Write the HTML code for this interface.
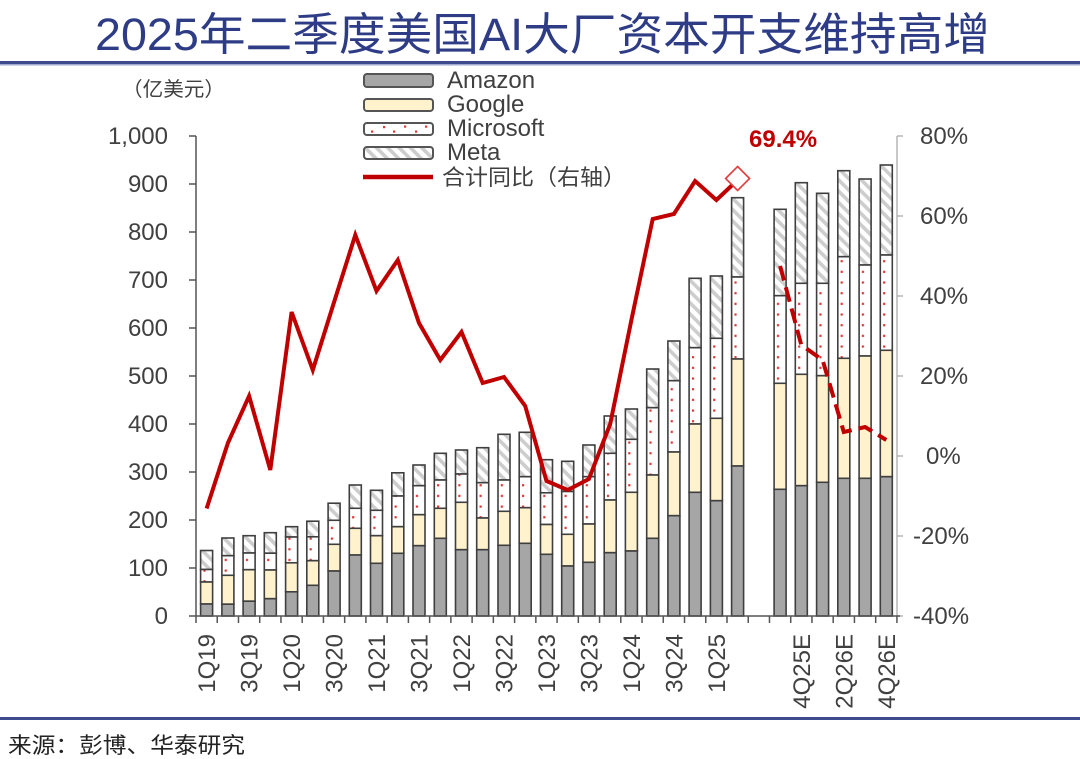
<!DOCTYPE html>
<html><head><meta charset="utf-8"><style>
html,body{margin:0;padding:0;background:#fff;}
svg{display:block;}
text{font-family:"Liberation Sans","Noto Sans CJK SC",sans-serif;}
.tk{font-size:24px;fill:#404040;}
.xl{font-size:24px;fill:#404040;}
.lg{font-size:24px;fill:#404040;}
.s rect{stroke:#3f3f3f;stroke-width:1.6;}
.am{fill:#a6a6a6;} .go{fill:#fff2cc;} .ms{fill:url(#dots);} .me{fill:url(#hatch);}
</style></head><body>
<svg width="1080" height="759" viewBox="0 0 1080 759" xmlns="http://www.w3.org/2000/svg">
<defs>
<pattern id="dots" patternUnits="userSpaceOnUse" x="196" y="0" width="21.24" height="10.67">
<rect width="21.24" height="10.67" fill="#fff"/>
<rect x="7.4" y="4" width="2.2" height="2.2" fill="#e03535"/>
</pattern>
<pattern id="hatch" patternUnits="userSpaceOnUse" width="8" height="8" patternTransform="rotate(-45)">
<rect width="8" height="8" fill="#fff"/>
<rect x="0" y="0" width="3.6" height="8" fill="#cdcdcd"/>
</pattern>
</defs>
<rect width="1080" height="759" fill="#fff"/>
<text x="95" y="50" font-size="45" fill="#2e3c86" textLength="895" lengthAdjust="spacingAndGlyphs">2025年二季度美国AI大厂资本开支维持高增</text>
<rect x="0" y="61" width="1080" height="3" fill="#3d4a8c"/>
<rect x="0" y="64" width="1080" height="1.5" fill="#a0a8cf"/>
<text x="122" y="96" font-size="20" fill="#404040" textLength="103" lengthAdjust="spacingAndGlyphs">（亿美元）</text>
<rect x="364" y="74" width="69" height="13" rx="3" fill="#a6a6a6" stroke="#555" stroke-width="2"/>
<rect x="364" y="99" width="69" height="12" rx="3" fill="#fff2cc" stroke="#555" stroke-width="2"/>
<rect x="364" y="123" width="69" height="12" rx="3" fill="#fff" stroke="#555" stroke-width="2"/>
<g fill="#e03535"><rect x="371" y="130.5" width="2.2" height="2.2"/><rect x="383" y="126" width="2.2" height="2.2"/><rect x="393" y="130.5" width="2.2" height="2.2"/><rect x="404" y="125.5" width="2.2" height="2.2"/><rect x="415" y="130.5" width="2.2" height="2.2"/><rect x="425" y="125.5" width="2.2" height="2.2"/></g>
<rect x="364" y="147" width="69" height="12" rx="3" fill="url(#hatch)" stroke="#555" stroke-width="2"/>
<line x1="363" y1="177" x2="433" y2="177" stroke="#c00000" stroke-width="4.5"/>
<text class="lg" x="447" y="88">Amazon</text>
<text class="lg" x="447" y="112">Google</text>
<text class="lg" x="447" y="136">Microsoft</text>
<text class="lg" x="447" y="160">Meta</text>
<text x="442" y="185" font-size="22" fill="#404040" textLength="184" lengthAdjust="spacingAndGlyphs">合计同比（右轴）</text>
<g stroke="#555" stroke-width="1.5">
<line x1="196" y1="136" x2="196" y2="616"/>
<line x1="189" y1="136" x2="196" y2="136"/><line x1="189" y1="184" x2="196" y2="184"/><line x1="189" y1="232" x2="196" y2="232"/><line x1="189" y1="280" x2="196" y2="280"/><line x1="189" y1="328" x2="196" y2="328"/><line x1="189" y1="376" x2="196" y2="376"/><line x1="189" y1="424" x2="196" y2="424"/><line x1="189" y1="472" x2="196" y2="472"/><line x1="189" y1="520" x2="196" y2="520"/><line x1="189" y1="568" x2="196" y2="568"/><line x1="189" y1="616" x2="196" y2="616"/>
</g>
<g class="tk" text-anchor="end">
<text x="168" y="144">1,000</text><text x="168" y="192">900</text><text x="168" y="240">800</text><text x="168" y="288">700</text><text x="168" y="336">600</text><text x="168" y="384">500</text><text x="168" y="432">400</text><text x="168" y="480">300</text><text x="168" y="528">200</text><text x="168" y="576">100</text><text x="168" y="624">0</text>
</g>
<g stroke="#b5b5b5" stroke-width="1.5">
<line x1="897" y1="136" x2="897" y2="616"/>
<line x1="897" y1="136" x2="903" y2="136"/><line x1="897" y1="216" x2="903" y2="216"/><line x1="897" y1="296" x2="903" y2="296"/><line x1="897" y1="376" x2="903" y2="376"/><line x1="897" y1="456" x2="903" y2="456"/><line x1="897" y1="536" x2="903" y2="536"/><line x1="897" y1="616" x2="903" y2="616"/>
</g>
<g class="tk">
<text x="920" y="144">80%</text><text x="920" y="224">60%</text><text x="920" y="304">40%</text><text x="920" y="384">20%</text><text x="926" y="464">0%</text><text x="913" y="544">-20%</text><text x="913" y="624">-40%</text>
</g>
<g class="s">
<rect class="me" x="200.6" y="550.5" width="12" height="19"/><rect class="ms" x="200.6" y="569.5" width="12" height="12.5"/><rect class="go" x="200.6" y="582" width="12" height="22"/><rect class="am" x="200.6" y="604" width="12" height="12"/>
<rect class="me" x="221.9" y="538" width="12" height="17.7"/><rect class="ms" x="221.9" y="555.7" width="12" height="19.6"/><rect class="go" x="221.9" y="575.3" width="12" height="28.9"/><rect class="am" x="221.9" y="604.2" width="12" height="11.8"/>
<rect class="me" x="243.1" y="535.7" width="12" height="17.3"/><rect class="ms" x="243.1" y="553" width="12" height="16.7"/><rect class="go" x="243.1" y="569.7" width="12" height="31.5"/><rect class="am" x="243.1" y="601.2" width="12" height="14.8"/>
<rect class="me" x="264.3" y="532.7" width="12" height="20.5"/><rect class="ms" x="264.3" y="553.2" width="12" height="16.8"/><rect class="go" x="264.3" y="570" width="12" height="28.7"/><rect class="am" x="264.3" y="598.7" width="12" height="17.3"/>
<rect class="me" x="285.6" y="526.7" width="12" height="10.3"/><rect class="ms" x="285.6" y="537" width="12" height="25.8"/><rect class="go" x="285.6" y="562.8" width="12" height="29"/><rect class="am" x="285.6" y="591.8" width="12" height="24.2"/>
<rect class="me" x="306.8" y="521.2" width="12" height="15.6"/><rect class="ms" x="306.8" y="536.8" width="12" height="23.9"/><rect class="go" x="306.8" y="560.7" width="12" height="24.6"/><rect class="am" x="306.8" y="585.3" width="12" height="30.7"/>
<rect class="me" x="328.1" y="503.2" width="12" height="17.1"/><rect class="ms" x="328.1" y="520.3" width="12" height="24"/><rect class="go" x="328.1" y="544.3" width="12" height="26.7"/><rect class="am" x="328.1" y="571" width="12" height="45"/>
<rect class="me" x="349.3" y="485" width="12" height="23.3"/><rect class="ms" x="349.3" y="508.3" width="12" height="20"/><rect class="go" x="349.3" y="528.3" width="12" height="26.7"/><rect class="am" x="349.3" y="555" width="12" height="61"/>
<rect class="me" x="370.5" y="490.3" width="12" height="20"/><rect class="ms" x="370.5" y="510.3" width="12" height="25.4"/><rect class="go" x="370.5" y="535.7" width="12" height="27.6"/><rect class="am" x="370.5" y="563.3" width="12" height="52.7"/>
<rect class="me" x="391.8" y="472.8" width="12" height="23.2"/><rect class="ms" x="391.8" y="496" width="12" height="30.7"/><rect class="go" x="391.8" y="526.7" width="12" height="26.6"/><rect class="am" x="391.8" y="553.3" width="12" height="62.7"/>
<rect class="me" x="413" y="465" width="12" height="20.7"/><rect class="ms" x="413" y="485.7" width="12" height="29"/><rect class="go" x="413" y="514.7" width="12" height="31"/><rect class="am" x="413" y="545.7" width="12" height="70.3"/>
<rect class="me" x="434.3" y="453.3" width="12" height="26.7"/><rect class="ms" x="434.3" y="480" width="12" height="28.3"/><rect class="go" x="434.3" y="508.3" width="12" height="30"/><rect class="am" x="434.3" y="538.3" width="12" height="77.7"/>
<rect class="me" x="455.5" y="450" width="12" height="24"/><rect class="ms" x="455.5" y="474" width="12" height="28.3"/><rect class="go" x="455.5" y="502.3" width="12" height="47.4"/><rect class="am" x="455.5" y="549.7" width="12" height="66.3"/>
<rect class="me" x="476.7" y="447.7" width="12" height="35"/><rect class="ms" x="476.7" y="482.7" width="12" height="35.3"/><rect class="go" x="476.7" y="518" width="12" height="31.7"/><rect class="am" x="476.7" y="549.7" width="12" height="66.3"/>
<rect class="me" x="498" y="434.3" width="12" height="45.7"/><rect class="ms" x="498" y="480" width="12" height="31.3"/><rect class="go" x="498" y="511.3" width="12" height="34"/><rect class="am" x="498" y="545.3" width="12" height="70.7"/>
<rect class="me" x="519.2" y="432.3" width="12" height="44.4"/><rect class="ms" x="519.2" y="476.7" width="12" height="31"/><rect class="go" x="519.2" y="507.7" width="12" height="35.6"/><rect class="am" x="519.2" y="543.3" width="12" height="72.7"/>
<rect class="me" x="540.5" y="459.7" width="12" height="33.1"/><rect class="ms" x="540.5" y="492.8" width="12" height="31.7"/><rect class="go" x="540.5" y="524.5" width="12" height="29.8"/><rect class="am" x="540.5" y="554.3" width="12" height="61.7"/>
<rect class="me" x="561.7" y="461.3" width="12" height="30.2"/><rect class="ms" x="561.7" y="491.5" width="12" height="42.8"/><rect class="go" x="561.7" y="534.3" width="12" height="31.7"/><rect class="am" x="561.7" y="566" width="12" height="50"/>
<rect class="me" x="582.9" y="445" width="12" height="31.7"/><rect class="ms" x="582.9" y="476.7" width="12" height="47.3"/><rect class="go" x="582.9" y="524" width="12" height="38.3"/><rect class="am" x="582.9" y="562.3" width="12" height="53.7"/>
<rect class="me" x="604.2" y="416" width="12" height="37.3"/><rect class="ms" x="604.2" y="453.3" width="12" height="46.7"/><rect class="go" x="604.2" y="500" width="12" height="52.7"/><rect class="am" x="604.2" y="552.7" width="12" height="63.3"/>
<rect class="me" x="625.4" y="409" width="12" height="30.3"/><rect class="ms" x="625.4" y="439.3" width="12" height="53"/><rect class="go" x="625.4" y="492.3" width="12" height="58.7"/><rect class="am" x="625.4" y="551" width="12" height="65"/>
<rect class="me" x="646.7" y="369" width="12" height="38.7"/><rect class="ms" x="646.7" y="407.7" width="12" height="67.3"/><rect class="go" x="646.7" y="475" width="12" height="63.3"/><rect class="am" x="646.7" y="538.3" width="12" height="77.7"/>
<rect class="me" x="667.9" y="341" width="12" height="39.7"/><rect class="ms" x="667.9" y="380.7" width="12" height="71.3"/><rect class="go" x="667.9" y="452" width="12" height="63.7"/><rect class="am" x="667.9" y="515.7" width="12" height="100.3"/>
<rect class="me" x="689.1" y="278.3" width="12" height="69.4"/><rect class="ms" x="689.1" y="347.7" width="12" height="76.3"/><rect class="go" x="689.1" y="424" width="12" height="68.3"/><rect class="am" x="689.1" y="492.3" width="12" height="123.7"/>
<rect class="me" x="710.4" y="276" width="12" height="62.3"/><rect class="ms" x="710.4" y="338.3" width="12" height="80"/><rect class="go" x="710.4" y="418.3" width="12" height="82.4"/><rect class="am" x="710.4" y="500.7" width="12" height="115.3"/>
<rect class="me" x="731.6" y="197.7" width="12" height="79.3"/><rect class="ms" x="731.6" y="277" width="12" height="82"/><rect class="go" x="731.6" y="359" width="12" height="107"/><rect class="am" x="731.6" y="466" width="12" height="150"/>
<rect class="me" x="774.1" y="209.3" width="12" height="86.4"/><rect class="ms" x="774.1" y="295.7" width="12" height="87.6"/><rect class="go" x="774.1" y="383.3" width="12" height="106"/><rect class="am" x="774.1" y="489.3" width="12" height="126.7"/>
<rect class="me" x="795.3" y="182.7" width="12" height="100.6"/><rect class="ms" x="795.3" y="283.3" width="12" height="91"/><rect class="go" x="795.3" y="374.3" width="12" height="111.4"/><rect class="am" x="795.3" y="485.7" width="12" height="130.3"/>
<rect class="me" x="816.6" y="193.3" width="12" height="90"/><rect class="ms" x="816.6" y="283.3" width="12" height="92.4"/><rect class="go" x="816.6" y="375.7" width="12" height="106.6"/><rect class="am" x="816.6" y="482.3" width="12" height="133.7"/>
<rect class="me" x="837.8" y="170.7" width="12" height="86"/><rect class="ms" x="837.8" y="256.7" width="12" height="101.6"/><rect class="go" x="837.8" y="358.3" width="12" height="120"/><rect class="am" x="837.8" y="478.3" width="12" height="137.7"/>
<rect class="me" x="859.1" y="179" width="12" height="86"/><rect class="ms" x="859.1" y="265" width="12" height="91"/><rect class="go" x="859.1" y="356" width="12" height="122.3"/><rect class="am" x="859.1" y="478.3" width="12" height="137.7"/>
<rect class="me" x="880.3" y="165" width="12" height="90"/><rect class="ms" x="880.3" y="255" width="12" height="95.3"/><rect class="go" x="880.3" y="350.3" width="12" height="126.4"/><rect class="am" x="880.3" y="476.7" width="12" height="139.3"/>
</g>
<g stroke="#555" stroke-width="1.5">
<line x1="196" y1="616" x2="900" y2="616"/>
<path d="M196 616v7M217.24 616v7M238.48 616v7M259.72 616v7M280.96 616v7M302.2 616v7M323.44 616v7M344.68 616v7M365.92 616v7M387.16 616v7M408.4 616v7M429.64 616v7M450.88 616v7M472.12 616v7M493.36 616v7M514.6 616v7M535.84 616v7M557.08 616v7M578.32 616v7M599.56 616v7M620.8 616v7M642.04 616v7M663.28 616v7M684.52 616v7M705.76 616v7M727 616v7M748.24 616v7M769.48 616v7M790.72 616v7M811.96 616v7M833.2 616v7M854.44 616v7M875.68 616v7M896.92 616v7"/>
</g>
<g class="xl" text-anchor="end">
<text transform="translate(215.1,634) rotate(-90)">1Q19</text>
<text transform="translate(257.6,634) rotate(-90)">3Q19</text>
<text transform="translate(300.1,634) rotate(-90)">1Q20</text>
<text transform="translate(342.6,634) rotate(-90)">3Q20</text>
<text transform="translate(385,634) rotate(-90)">1Q21</text>
<text transform="translate(427.5,634) rotate(-90)">3Q21</text>
<text transform="translate(470,634) rotate(-90)">1Q22</text>
<text transform="translate(512.5,634) rotate(-90)">3Q22</text>
<text transform="translate(555,634) rotate(-90)">1Q23</text>
<text transform="translate(597.4,634) rotate(-90)">3Q23</text>
<text transform="translate(639.9,634) rotate(-90)">1Q24</text>
<text transform="translate(682.4,634) rotate(-90)">3Q24</text>
<text transform="translate(724.9,634) rotate(-90)">1Q25</text>
<text transform="translate(809.8,634) rotate(-90)">4Q25E</text>
<text transform="translate(852.3,634) rotate(-90)">2Q26E</text>
<text transform="translate(894.8,634) rotate(-90)">4Q26E</text>
</g>
<polyline fill="none" stroke="#c00000" stroke-width="4" stroke-linejoin="miter" points="206.6,508.5 227.9,443 249.1,396 270.3,470 291.6,312 312.8,370 334.1,302 355.3,235 376.5,291 397.8,260 419,323 440.3,360 461.5,332 482.7,383 504,377 525.2,406 546.5,481 567.7,490 588.9,479 610.2,424 631.4,320 652.7,219 673.9,214 695.1,181 716.4,200 737.6,180"/>
<polyline fill="none" stroke="#c00000" stroke-width="4" stroke-dasharray="15 7" points="780.1,266 801.3,345 822.6,360 843.8,432 865.1,427 886.3,440"/>
<polygon points="737.6,166.5 749.6,178.5 737.6,190.5 725.6,178.5" fill="#fff" stroke="#e03c3c" stroke-width="1.6"/>
<text x="749" y="147" font-size="24" font-weight="bold" fill="#c00000">69.4%</text>
<rect x="0" y="717" width="1080" height="3" fill="#3d4a8c"/>
<text x="8" y="753" font-size="22" fill="#222" textLength="237" lengthAdjust="spacingAndGlyphs">来源：彭博、华泰研究</text>
</svg>
</body></html>
